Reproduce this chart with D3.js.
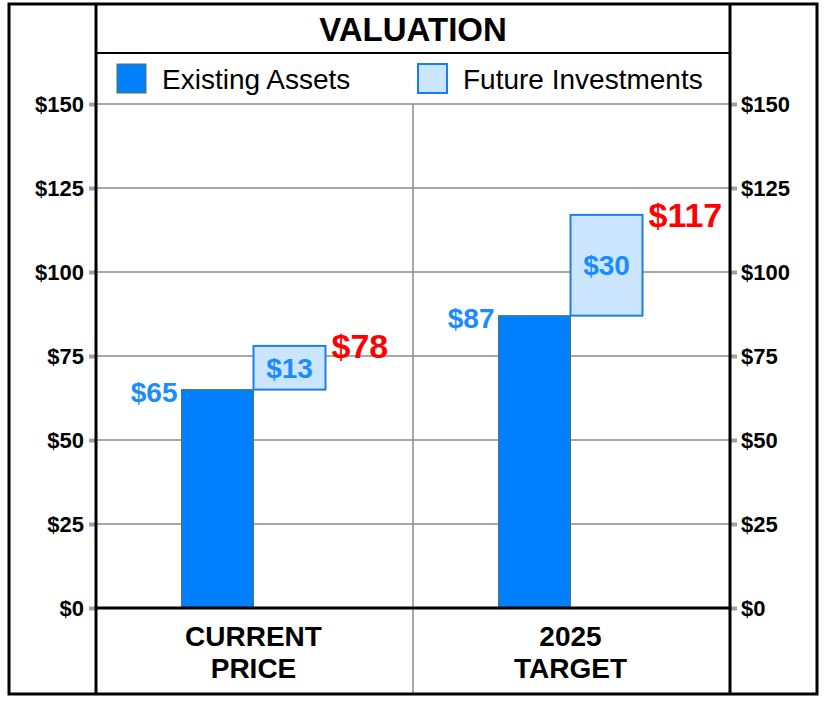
<!DOCTYPE html>
<html>
<head>
<meta charset="utf-8">
<script src="https://cdn.jsdelivr.net/npm/d3@7"></script>
<style>
  body { margin: 0; background: #fff; }
  text { font-family: "Liberation Sans", Arial, sans-serif; }
</style>
</head>
<body>
<div id="chart"></div>
<script>
// Chart data
const categories = [["CURRENT", "PRICE"], ["2025", "TARGET"]];
const existingAssets = [65, 87];
const futureInvestments = [13, 30];
const totals = [78, 117];
const yTicks = [0, 25, 50, 75, 100, 125, 150];
const seriesNames = ["Existing Assets", "Future Investments"];

const width = 824;
const height = 704;
const plot = {left: 96, right: 730, top: 104, bottom: 608};
const frame = {left: 9, right: 817, top: 4, bottom: 694};

const blue = "#0080ff";
const lightBlue = "#cce5ff";
const labelBlue = "#1a8cff";

const svg = d3.select("#chart")
  .append("svg")
  .attr("width", width)
  .attr("height", height);

// Scales
const yScale = d3.scaleLinear()
  .domain([0, 150])
  .range([plot.bottom, plot.top]);

const xScale = d3.scaleBand()
  .domain(d3.range(categories.length))
  .range([plot.left, plot.right]);

const barWidth = 72;
const mid = i => xScale(i) + xScale.bandwidth() / 2 - 1;

// Gridlines
svg.append("g")
  .selectAll("line")
  .data(yTicks.filter(d => d > 0))
  .enter()
  .append("line")
  .attr("x1", plot.left)
  .attr("x2", plot.right)
  .attr("y1", d => yScale(d))
  .attr("y2", d => yScale(d))
  .attr("stroke", "#8a8a8a")
  .attr("stroke-width", 1.5);

// Middle divider
svg.append("line")
  .attr("x1", xScale(1))
  .attr("x2", xScale(1))
  .attr("y1", plot.top)
  .attr("y2", frame.bottom)
  .attr("stroke", "#8a8a8a")
  .attr("stroke-width", 1.5);

// Axes (left and right)
const fmt = d => "$" + d;
const leftAxis = svg.append("g")
  .attr("transform", `translate(${plot.left - 1},0)`)
  .call(d3.axisLeft(yScale).tickValues(yTicks).tickFormat(fmt).tickSize(6).tickPadding(5));
const rightAxis = svg.append("g")
  .attr("transform", `translate(${plot.right + 1},0)`)
  .call(d3.axisRight(yScale).tickValues(yTicks).tickFormat(fmt).tickSize(6).tickPadding(4));

[leftAxis, rightAxis].forEach(ax => {
  ax.select(".domain").remove();
  ax.selectAll(".tick line").attr("stroke", "#a0a0a0").attr("stroke-width", 4);
  ax.selectAll(".tick text")
    .attr("font-family", "Liberation Sans, Arial, sans-serif")
    .attr("font-size", "22px")
    .attr("font-weight", "bold")
    .attr("fill", "#000");
});

// Bars: existing assets
svg.selectAll(".existing")
  .data(existingAssets)
  .enter()
  .append("rect")
  .attr("class", "existing")
  .attr("x", (d, i) => mid(i) - barWidth)
  .attr("y", d => yScale(d))
  .attr("width", barWidth)
  .attr("height", d => yScale(0) - yScale(d))
  .attr("fill", blue)
  .attr("stroke", "#4f7a45")
  .attr("stroke-width", 1);

// Bars: future investments (stacked on top, shifted right)
svg.selectAll(".future")
  .data(futureInvestments)
  .enter()
  .append("rect")
  .attr("class", "future")
  .attr("x", (d, i) => mid(i))
  .attr("y", (d, i) => yScale(existingAssets[i] + d))
  .attr("width", barWidth)
  .attr("height", (d, i) => yScale(existingAssets[i]) - yScale(existingAssets[i] + d))
  .attr("fill", lightBlue)
  .attr("stroke", "#1a80e6")
  .attr("stroke-width", 2);

// Value labels
svg.selectAll(".existing-label")
  .data(existingAssets)
  .enter()
  .append("text")
  .attr("x", (d, i) => mid(i) - barWidth - 4)
  .attr("y", d => yScale(d) + 12)
  .attr("text-anchor", "end")
  .attr("font-size", "28px")
  .attr("font-weight", "bold")
  .attr("fill", labelBlue)
  .text(d => "$" + d);

svg.selectAll(".future-label")
  .data(futureInvestments)
  .enter()
  .append("text")
  .attr("x", (d, i) => mid(i) + barWidth / 2)
  .attr("y", (d, i) => yScale(existingAssets[i] + d / 2) + 10)
  .attr("text-anchor", "middle")
  .attr("font-size", "28px")
  .attr("font-weight", "bold")
  .attr("fill", labelBlue)
  .text(d => "$" + d);

svg.selectAll(".total-label")
  .data(totals)
  .enter()
  .append("text")
  .attr("x", (d, i) => mid(i) + barWidth + 6)
  .attr("y", d => yScale(d) + 12)
  .attr("text-anchor", "start")
  .attr("font-size", "34px")
  .attr("font-weight", "bold")
  .attr("fill", "#ff0000")
  .text(d => "$" + d);

// Zero baseline
svg.append("line")
  .attr("x1", plot.left)
  .attr("x2", plot.right)
  .attr("y1", yScale(0))
  .attr("y2", yScale(0))
  .attr("stroke", "#000")
  .attr("stroke-width", 3);

// Category labels
categories.forEach((lines, i) => {
  const t = svg.append("text")
    .attr("text-anchor", "middle")
    .attr("font-size", "28px")
    .attr("font-weight", "bold")
    .attr("fill", "#000");
  lines.forEach((s, j) => {
    t.append("tspan")
      .attr("x", mid(i))
      .attr("y", 646 + j * 32)
      .text(s);
  });
});

// Title
svg.append("text")
  .attr("x", (plot.left + plot.right) / 2)
  .attr("y", 41)
  .attr("text-anchor", "middle")
  .attr("font-size", "33px")
  .attr("font-weight", "bold")
  .text("VALUATION");

svg.append("line")
  .attr("x1", plot.left)
  .attr("x2", plot.right)
  .attr("y1", 53)
  .attr("y2", 53)
  .attr("stroke", "#000")
  .attr("stroke-width", 2);

// Legend
const legendX = [117, 418];
const legend = svg.selectAll(".legend")
  .data(seriesNames)
  .enter()
  .append("g")
  .attr("transform", (d, i) => `translate(${legendX[i]},64)`);

legend.append("rect")
  .attr("width", 29)
  .attr("height", 29)
  .attr("fill", (d, i) => i === 0 ? blue : lightBlue)
  .attr("stroke", (d, i) => i === 0 ? "#4f7a45" : "#1a80e6")
  .attr("stroke-width", (d, i) => i === 0 ? 1 : 2);

legend.append("text")
  .attr("x", 45)
  .attr("y", 25)
  .attr("font-size", "28px")
  .attr("fill", "#000")
  .text(d => d);

// Frame
svg.append("rect")
  .attr("x", frame.left)
  .attr("y", frame.top)
  .attr("width", frame.right - frame.left)
  .attr("height", frame.bottom - frame.top)
  .attr("fill", "none")
  .attr("stroke", "#000")
  .attr("stroke-width", 3);

[plot.left, plot.right].forEach(x => {
  svg.append("line")
    .attr("x1", x)
    .attr("x2", x)
    .attr("y1", frame.top)
    .attr("y2", frame.bottom)
    .attr("stroke", "#000")
    .attr("stroke-width", 3);
});
</script>
</body>
</html>
